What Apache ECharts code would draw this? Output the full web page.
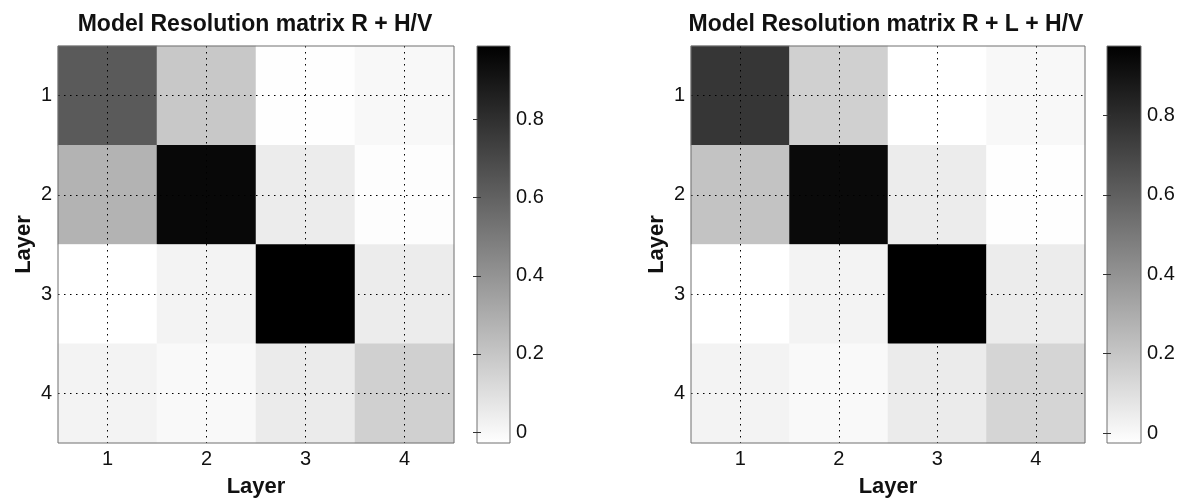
<!DOCTYPE html>
<html>
<head>
<meta charset="utf-8">
<script src="https://cdn.jsdelivr.net/npm/echarts@6/dist/echarts.min.js"></script>
<style>
html,body{margin:0;padding:0;background:#fff;}
#main{width:1187px;height:502px;}
</style>
</head>
<body>
<div id="main"></div>
<script>
// ---- data ----
const layers = ['1', '2', '3', '4'];
const titleLeft = 'Model Resolution matrix R + H/V';
const titleRight = 'Model Resolution matrix R + L + H/V';
const axisName = 'Layer';
// rows = layer (y, top to bottom), columns = layer (x)
const matrixLeft = [
  [0.63, 0.19, -0.025, 0.00],
  [0.275, 0.955, 0.048, -0.022],
  [-0.028, 0.02, 0.988, 0.048],
  [0.02, -0.004, 0.052, 0.16]
];
const matrixRight = [
  [0.765, 0.16, -0.025, 0.002],
  [0.21, 0.935, 0.05, -0.022],
  [-0.025, 0.022, 0.975, 0.05],
  [0.022, -0.001, 0.053, 0.14]
];
const rangeLeft = [-0.028, 0.988];
const rangeRight = [-0.025, 0.975];
const colorbarTicks = [0, 0.2, 0.4, 0.6, 0.8];

// ---- build ----
const FONT = 'Liberation Sans, Arial, Helvetica, sans-serif';
function toCells(m) {
  const out = [];
  m.forEach((row, r) => row.forEach((v, c) => out.push([c, r, v])));
  return out;
}
const gridLines = layers.map(l => ({ xAxis: l })).concat(layers.map(l => ({ yAxis: l })));

const heatGrids = [
  { left: 58, top: 46, width: 396, height: 397 },
  { left: 691, top: 46, width: 394, height: 397 }
];
const cbGrids = [
  { left: 477, top: 46, width: 33, height: 397 },
  { left: 1107, top: 46, width: 34, height: 397 }
];
const ranges = [rangeLeft, rangeRight];
const grad = () => new echarts.graphic.LinearGradient(0, 0, 0, 1, [
  { offset: 0, color: '#000000' }, { offset: 1, color: '#ffffff' }
]);

const grid = [];
heatGrids.forEach(g => grid.push(Object.assign({ show: true, borderColor: '#707070', borderWidth: 1, backgroundColor: 'transparent', z: 10, outerBoundsMode: 'none', containLabel: false }, g)));
cbGrids.forEach(g => grid.push(Object.assign({ show: true, borderColor: '#707070', borderWidth: 1, backgroundColor: grad(), z: 0, outerBoundsMode: 'none', containLabel: false }, g)));

const xAxis = [], yAxis = [];
[0, 1].forEach(i => {
  xAxis.push({
    type: 'category', data: layers, gridIndex: i, position: 'bottom',
    axisLine: { show: false }, axisTick: { show: false }, splitLine: { show: false },
    axisLabel: { color: '#111', fontSize: 20, fontFamily: FONT, margin: 6 },
    name: axisName, nameLocation: 'middle', nameGap: 33,
    nameTextStyle: { color: '#111', fontSize: 22, fontWeight: 'bold', fontFamily: FONT }
  });
  yAxis.push({
    type: 'category', data: layers, gridIndex: i, inverse: true,
    axisLine: { show: false }, axisTick: { show: false }, splitLine: { show: false },
    axisLabel: { color: '#111', fontSize: 20, fontFamily: FONT, margin: 6 },
    name: axisName, nameLocation: 'middle', nameGap: 23, nameRotate: 90,
    nameTextStyle: { color: '#111', fontSize: 22, fontWeight: 'bold', fontFamily: FONT }
  });
});
[0, 1].forEach(i => {
  xAxis.push({ type: 'value', gridIndex: 2 + i, show: false, min: 0, max: 1 });
  yAxis.push({
    type: 'value', gridIndex: 2 + i, position: 'right', min: ranges[i][0], max: ranges[i][1], z: 5,
    axisLine: { show: false }, splitLine: { show: false },
    axisTick: { show: true, inside: true, length: 4, customValues: colorbarTicks, lineStyle: { color: '#333' } },
    axisLabel: { customValues: colorbarTicks, color: '#111', fontSize: 20, fontFamily: FONT, margin: 6,
      formatter: v => String(Math.round(v * 10) / 10) }
  });
  yAxis.push({
    type: 'value', gridIndex: 2 + i, position: 'left', min: ranges[i][0], max: ranges[i][1], z: 5,
    axisLine: { show: false }, splitLine: { show: false },
    axisTick: { show: true, inside: true, length: 4, customValues: colorbarTicks, lineStyle: { color: '#333' } },
    axisLabel: { show: false }
  });
});

const series = [matrixLeft, matrixRight].map((m, i) => ({
  type: 'heatmap', xAxisIndex: i, yAxisIndex: i, data: toCells(m),
  emphasis: { disabled: true },
  markLine: {
    silent: true, symbol: 'none', label: { show: false },
    lineStyle: { color: '#000', width: 1, type: [1.5, 4.5] },
    data: gridLines
  }
}));

const option = {
  animation: false,
  backgroundColor: '#ffffff',
  title: [
    { text: titleLeft, left: 250, top: 8, textAlign: 'center',
      textStyle: { fontSize: 23, fontWeight: 'bold', color: '#111', fontFamily: FONT } },
    { text: titleRight, left: 881, top: 8, textAlign: 'center',
      textStyle: { fontSize: 23, fontWeight: 'bold', color: '#111', fontFamily: FONT } }
  ],
  grid, xAxis, yAxis,
  visualMap: [0, 1].map(i => ({
    type: 'continuous', show: false, seriesIndex: i, dimension: 2,
    min: ranges[i][0], max: ranges[i][1],
    inRange: { color: ['#ffffff', '#000000'] }
  })),
  series
};
const chart = echarts.init(document.getElementById('main'), null, { renderer: 'canvas' });
chart.setOption(option);
</script>
</body>
</html>
